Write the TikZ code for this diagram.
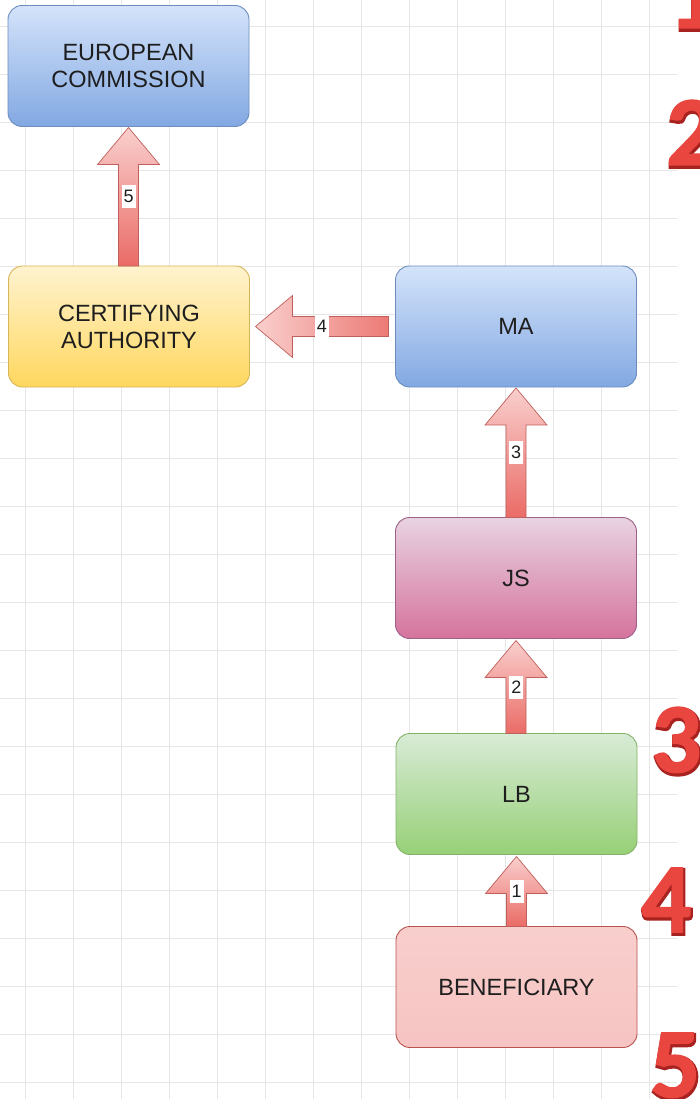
\documentclass[tikz,border=0pt]{standalone}
\usepackage{fontspec}
\setmainfont{Liberation Sans}
\newfontfamily\numfont[FakeBold=1.5]{Carlito Bold}
\newfontfamily\numfontout[FakeBold=4]{Carlito Bold}
\usetikzlibrary{calc}
\definecolor{gridc}{HTML}{E6E6E6}
\definecolor{blueT}{HTML}{D4E3FA}
\definecolor{blueB}{HTML}{82A8E2}
\definecolor{blueD}{HTML}{6C8EBF}
\definecolor{yelT}{HTML}{FFF3CF}
\definecolor{yelB}{HTML}{FFD75E}
\definecolor{yelD}{HTML}{D6B656}
\definecolor{pinkT}{HTML}{E8D3E1}
\definecolor{pinkB}{HTML}{D5739D}
\definecolor{pinkD}{HTML}{996185}
\definecolor{grnT}{HTML}{D8EBD6}
\definecolor{grnB}{HTML}{97D077}
\definecolor{grnD}{HTML}{82B366}
\definecolor{benT}{HTML}{F8CECC}
\definecolor{benB}{HTML}{F6C4C2}
\definecolor{benD}{HTML}{B85450}
\definecolor{arrL}{HTML}{F9CFCD}
\definecolor{arrR}{HTML}{EA6B66}
\definecolor{arrD}{HTML}{C0605C}
\definecolor{numred}{HTML}{E8463F}
\definecolor{numdark}{HTML}{A82220}
\definecolor{txt}{HTML}{1E1E1E}
\tikzset{
  gridline/.style={draw=gridc, line width=0.9pt},
  box/.style={rounded corners=14pt, minimum width=241pt, minimum height=121pt,
    inner sep=0pt, outer sep=0pt, align=center, line width=0.9pt, text=txt,
    font=\fontsize{23.5}{27}\selectfont},
  bluebox/.style={draw=blueD, top color=blueT, bottom color=blueB},
  yelbox/.style={draw=yelD, top color=yelT, bottom color=yelB},
  pinkbox/.style={draw=pinkD, top color=pinkT, bottom color=pinkB},
  grnbox/.style={draw=grnD, top color=grnT, bottom color=grnB},
  benbox/.style={draw=benD, top color=benT, bottom color=benB},
  arrbody/.style={draw=arrD, line width=0.7pt},
  lab/.style={fill=white, inner sep=0pt, minimum width=14pt, minimum height=23pt,
    text=txt, font=\fontsize{18}{18}\selectfont},
  bignum/.style={inner sep=0pt, anchor=base west, text=numred,
    font=\numfont\fontsize{99}{99}\selectfont},
  bigshadow/.style={inner sep=0pt, anchor=base west, text=numdark,
    font=\numfontout\fontsize{99}{99}\selectfont}
}
\newcommand\blockup[3]{%
  \path[arrbody, top color=arrL, bottom color=arrR] let \p1=(#1), \p2=(#2) in
    (\x2,\y2) -- (\x2+31pt,\y2-37pt) -- (\x2+10pt,\y2-37pt) -- (\x2+10pt,\y1)
    -- (\x2-10pt,\y1) -- (\x2-10pt,\y2-37pt) -- (\x2-31pt,\y2-37pt) -- cycle;
  \node[lab] at ($(#1)!0.5!(#2)$) {#3};}
\newcommand\blockleft[3]{%
  \path[arrbody, left color=arrL, right color=arrR!85!arrL] let \p1=(#1), \p2=(#2) in
    (\x2,\y2) -- (\x2+37pt,\y2+31pt) -- (\x2+37pt,\y2+10pt) -- (\x1,\y2+10pt)
    -- (\x1,\y2-10pt) -- (\x2+37pt,\y2-10pt) -- (\x2+37pt,\y2-31pt) -- cycle;
  \node[lab] at ($(#1)!0.5!(#2)$) {#3};}
\begin{document}
\begin{tikzpicture}[x=1pt,y=-1pt]
\useasboundingbox (0,0) rectangle (700,1099);
\clip (0,0) rectangle (700,1099);
\fill[white] (0,0) rectangle (700,1099);
\foreach \gx in {25,73,...,650} \draw[gridline] (\gx,0) -- (\gx,1099);
\foreach \gy in {26,74,...,1090} \draw[gridline] (0,\gy) -- (677,\gy);
% boxes
\node[box, bluebox] (ec) at (128.5,66) {EUROPEAN\\COMMISSION};
\node[box, yelbox] (ca) at (129,326.5) {CERTIFYING\\AUTHORITY};
\node[box, bluebox] (ma) at (516,326.5) {MA};
\node[box, pinkbox] (js) at (516,578) {JS};
\node[box, grnbox] (lb) at (516.5,794) {LB};
\node[box, benbox] (ben) at (516.5,987) {BENEFICIARY};
% connector ends
\coordinate (t5) at ($(ec.south)+(0,1)$);
\coordinate (t4) at ($(ca.east)+(6,0)$);
\coordinate (s4) at ($(ma.west)+(-7,0)$);
\coordinate (t3) at ($(ma.south)+(0,1)$);
\coordinate (t2) at ($(js.south)+(0,2)$);
\coordinate (t1) at ($(lb.south)+(0,2)$);
% arrows
\blockup{ca.north}{t5}{5}
\blockleft{s4}{t4}{4}
\blockup{js.north}{t3}{3}
\blockup{lb.north}{t2}{2}
\blockup{ben.north}{t1}{1}
% big numbers
\foreach \nx/\ny/\nn in {668/28/1, 666/165/2, 651/772/3, 641/932/4, 650/1097/5}{
  \node[bigshadow] at (\nx+1,\ny+2) {\nn};
  \node[bignum] at (\nx,\ny) {\nn};
}
\end{tikzpicture}
\end{document}
